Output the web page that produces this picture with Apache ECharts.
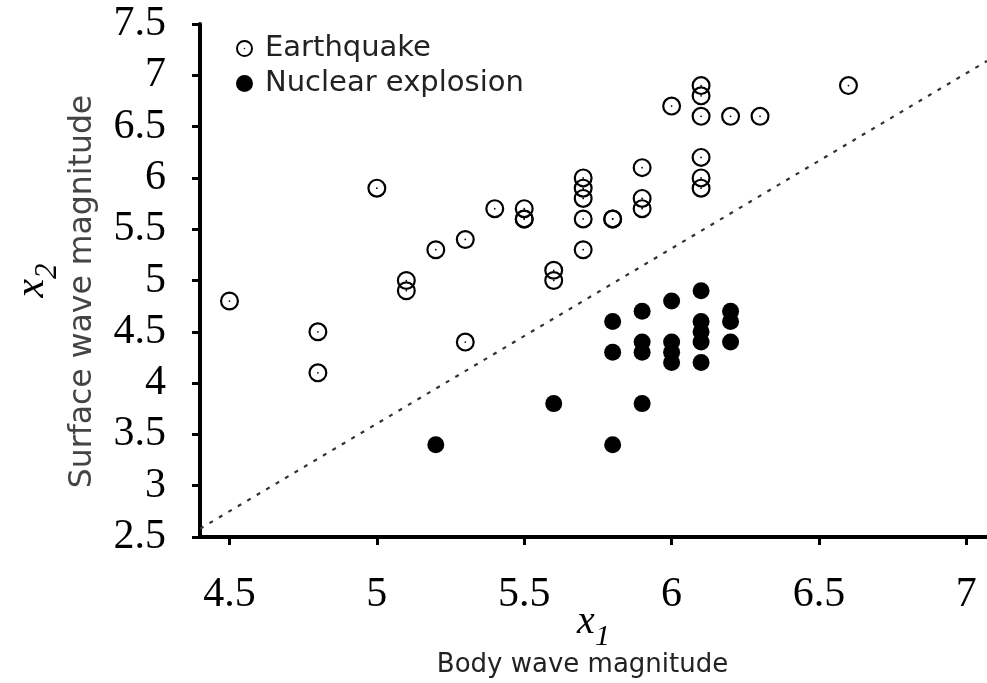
<!DOCTYPE html>
<html>
<head>
<meta charset="utf-8">
<style>
  html, body { margin: 0; padding: 0; background: #fff; overflow: hidden; }
  #chart { width: 987px; height: 683px; }
</style>
<script src="https://cdn.jsdelivr.net/npm/echarts@6/dist/echarts.min.js"></script>
</head>
<body>
<div id="chart"></div>
<script>
// Body wave magnitude (x1) and surface wave magnitude (x2) of seismic events
const quakeX = [4.5, 4.8, 4.8, 5.0, 5.1, 5.1, 5.2, 5.3, 5.3, 5.4, 5.5, 5.5, 5.5, 5.6, 5.6,
                5.7, 5.7, 5.7, 5.7, 5.7, 5.8, 5.8, 5.9, 5.9, 5.9, 6.0, 6.1, 6.1, 6.1, 6.1,
                6.1, 6.1, 6.2, 6.3, 6.6];
const quakeY = [4.8, 4.5, 4.1, 5.9, 5.0, 4.9, 5.3, 5.4, 4.4, 5.7, 5.7, 5.6, 5.6, 5.1, 5.0,
                6.0, 5.9, 5.8, 5.6, 5.3, 5.6, 5.6, 6.1, 5.8, 5.7, 6.7, 6.9, 6.8, 6.6, 6.2,
                6.0, 5.9, 6.6, 6.6, 6.9];

const nukeX = [5.2, 5.6, 5.8, 5.8, 5.8, 5.9, 5.9, 5.9, 5.9, 6.0, 6.0, 6.0, 6.0,
               6.1, 6.1, 6.1, 6.1, 6.1, 6.2, 6.2, 6.2];
const nukeY = [3.4, 3.8, 3.4, 4.6, 4.3, 3.8, 4.7, 4.4, 4.3, 4.8, 4.4, 4.3, 4.2,
               4.9, 4.6, 4.5, 4.4, 4.2, 4.7, 4.6, 4.4];

// Linear discriminant separating the two classes
const boundaryX = [4.4, 7.07];
const boundaryY = [2.58, 7.14];

const xTicks = [4.5, 5, 5.5, 6, 6.5, 7];
const yRange = [2.5, 7.5];

const zip = (xs, ys) => xs.map((x, i) => [x, ys[i]]);

// ring with a centre dot, built as one filled path (inner circle wound the other way)
const dottedRing =
  'path://M10,0 A10,10 0 1,1 10,20 A10,10 0 1,1 10,0 Z ' +
  'M10,2.3 A7.7,7.7 0 1,0 10,17.7 A7.7,7.7 0 1,0 10,2.3 Z ' +
  'M10,9.1 A0.9,0.9 0 1,1 10,10.9 A0.9,0.9 0 1,1 10,9.1 Z';

const chart = echarts.init(document.getElementById('chart'), null,
  { renderer: 'canvas', width: 987, height: 683 });

const serif = 'Liberation Serif';
const sans = 'DejaVu Sans';

chart.setOption({
  animation: false,
  backgroundColor: '#fff',
  grid: { left: 200, right: 0, top: 24, bottom: 146, containLabel: false, outerBoundsMode: 'none' },
  legend: {
    orient: 'vertical',
    left: 231,
    top: 29,
    itemWidth: 17,
    itemHeight: 17,
    itemGap: 6,
    data: ['Earthquake', 'Nuclear explosion'],
    textStyle: { fontFamily: sans, fontSize: 29, color: '#222', padding: [0, 0, 0, 7] }
  },
  xAxis: {
    type: 'value',
    min: 4.4,
    max: 7.07,
    splitLine: { show: false },
    axisLine: { lineStyle: { color: '#000', width: 4 } },
    axisTick: { show: true, customValues: xTicks, length: 8, inside: false,
                lineStyle: { color: '#000', width: 3 } },
    axisLabel: { customValues: xTicks, fontFamily: serif, fontSize: 42, color: '#000', margin: 37 },
    name: '{x|x}{s|1}\n{t|Body wave magnitude}',
    nameLocation: 'middle',
    nameGap: 73,
    nameMoveOverlap: false,
    nameTextStyle: {
      rich: {
        x: { fontFamily: serif, fontStyle: 'italic', fontSize: 40, color: '#000', lineHeight: 38,
             verticalAlign: 'bottom', padding: [0, 0, 6, 0] },
        s: { fontFamily: serif, fontStyle: 'italic', fontSize: 30, color: '#000', lineHeight: 38,
             verticalAlign: 'bottom', padding: [0, 0, -4, 0] },
        t: { fontFamily: sans, fontSize: 26, color: '#222', lineHeight: 34, padding: [0, 22, 0, 0] }
      }
    }
  },
  yAxis: {
    type: 'value',
    min: yRange[0],
    max: yRange[1],
    interval: 0.5,
    splitLine: { show: false },
    axisLine: { lineStyle: { color: '#000', width: 4 } },
    axisTick: { show: true, length: 8, lineStyle: { color: '#000', width: 3 } },
    axisLabel: { fontFamily: serif, fontSize: 42, color: '#000', margin: 34 },
    name: '{x|x}{s|2}\n{t|Surface wave magnitude}',
    nameLocation: 'middle',
    nameRotate: 90,
    nameGap: 99,
    nameMoveOverlap: false,
    nameTextStyle: {
      rich: {
        x: { fontFamily: serif, fontStyle: 'italic', fontSize: 42, color: '#000', lineHeight: 66,
             verticalAlign: 'bottom', padding: [0, 0, 12, 0] },
        s: { fontFamily: serif, fontStyle: 'italic', fontSize: 31, color: '#000', lineHeight: 66,
             verticalAlign: 'bottom', padding: [0, 0, 2, 0] },
        t: { fontFamily: sans, fontSize: 31.5, color: '#444', lineHeight: 36, padding: [0, 22, 0, 0] }
      }
    }
  },
  series: [
    {
      name: 'boundary',
      type: 'line',
      data: zip(boundaryX, boundaryY),
      symbol: 'none',
      silent: true,
      lineStyle: { color: '#333', width: 2.2, type: [4, 7] },
      z: 1
    },
    {
      name: 'Earthquake',
      type: 'scatter',
      data: zip(quakeX, quakeY),
      symbol: dottedRing,
      symbolSize: 19,
      itemStyle: { color: '#000', opacity: 1 },
      z: 3
    },
    {
      name: 'Nuclear explosion',
      type: 'scatter',
      data: zip(nukeX, nukeY),
      symbol: 'circle',
      symbolSize: 17,
      itemStyle: { color: '#000', opacity: 1 },
      z: 3
    }
  ]
});
</script>
</body>
</html>
